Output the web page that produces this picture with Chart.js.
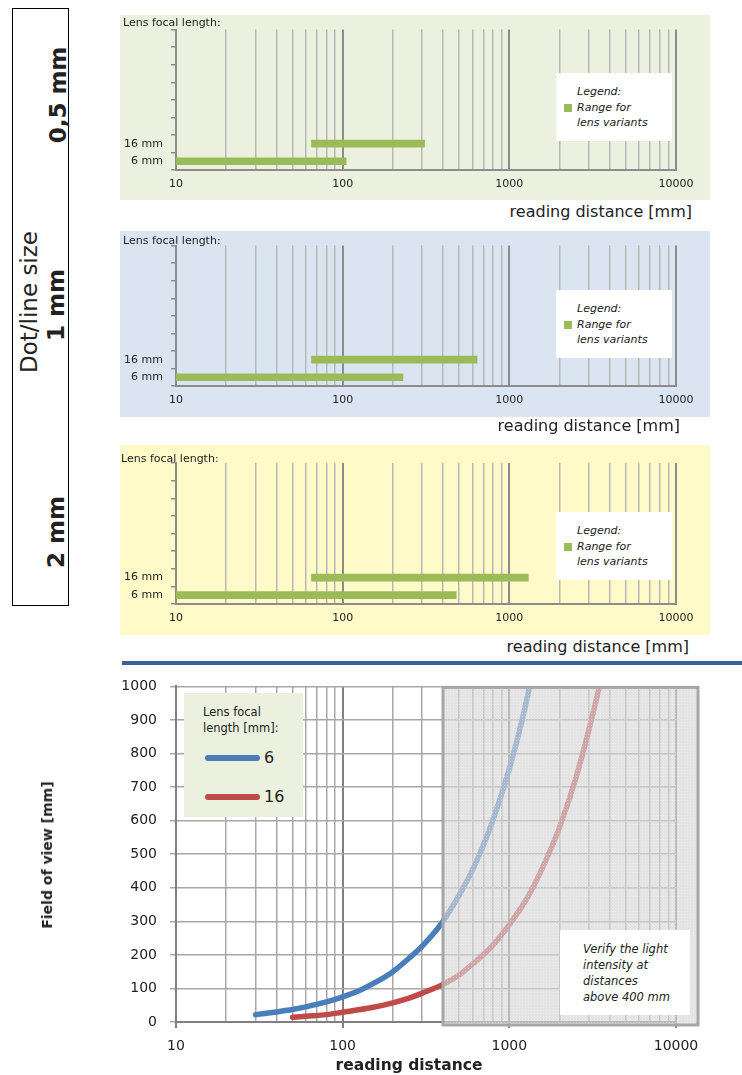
<!DOCTYPE html>
<html>
<head>
<meta charset="utf-8">
<script src="https://cdn.jsdelivr.net/npm/chart.js@4.4.1/dist/chart.umd.min.js"></script>
<style>
  body { margin: 0; background: #fff; font-family: "DejaVu Sans", sans-serif; color: #222; }
  #page { position: relative; width: 742px; height: 1075px; overflow: hidden; }
  .abs { position: absolute; white-space: nowrap; }
  .rot { position: absolute; white-space: nowrap; transform: translate(-50%, -50%) rotate(-90deg); }
  .bg { position: absolute; left: 120px; width: 590px; }
  .cv { position: absolute; left: 120px; }
  .lensTitle { position: absolute; font-size: 11px; line-height: 13px; }
  .xTitle { position: absolute; font-size: 16px; line-height: 18px; text-align: right; }
  .legend { position: absolute; left: 556px; width: 116px; height: 68px; background: #fff; font-style: italic; font-size: 11px; }
  .legend span { position: absolute; left: 21px; line-height: 15px; }
  .legend i { position: absolute; left: 8px; width: 8px; height: 8px; background: #9bbb59; }
</style>
</head>
<body>
<div id="page">
  <!-- left label box -->
  <div class="abs" style="left:12px;top:8px;width:55px;height:596px;border:1px solid #000;"></div>
  <div class="rot" style="left:58px;top:95px;font-size:23px;font-weight:bold;">0,5 mm</div>
  <div class="rot" style="left:29px;top:302px;font-size:23px;">Dot/line size</div>
  <div class="rot" style="left:56px;top:305px;font-size:23px;font-weight:bold;">1 mm</div>
  <div class="rot" style="left:56px;top:532px;font-size:23px;font-weight:bold;">2 mm</div>

  <!-- panel 1 -->
  <div class="bg" style="top:15px;height:185px;background:#ebf1de;"></div>
  <canvas id="c05" class="cv" width="590" height="185" style="top:15px;"></canvas>
  <div class="lensTitle" style="left:123px;top:16px;">Lens focal length:</div>
  <div class="legend" style="top:73px;"><span style="top:11px;">Legend:</span><i style="top:31px;"></i><span style="top:27px;">Range for</span><span style="top:42px;">lens variants</span></div>
  <div class="xTitle" style="right:50px;top:203px;">reading distance [mm]</div>

  <!-- panel 2 -->
  <div class="bg" style="top:231px;height:186px;background:#dbe5f1;"></div>
  <canvas id="c1" class="cv" width="590" height="186" style="top:231px;"></canvas>
  <div class="lensTitle" style="left:123px;top:234px;">Lens focal length:</div>
  <div class="legend" style="top:290px;"><span style="top:11px;">Legend:</span><i style="top:31px;"></i><span style="top:27px;">Range for</span><span style="top:42px;">lens variants</span></div>
  <div class="xTitle" style="right:62px;top:417px;">reading distance [mm]</div>

  <!-- panel 3 -->
  <div class="bg" style="top:445px;height:190px;background:#fffac8;"></div>
  <canvas id="c2" class="cv" width="590" height="190" style="top:445px;"></canvas>
  <div class="lensTitle" style="left:121px;top:452px;">Lens focal length:</div>
  <div class="legend" style="top:512px;"><span style="top:11px;">Legend:</span><i style="top:31px;"></i><span style="top:27px;">Range for</span><span style="top:42px;">lens variants</span></div>
  <div class="xTitle" style="right:53px;top:638px;">reading distance [mm]</div>

  <!-- separator -->
  <div class="abs" style="left:122px;top:661px;width:620px;height:4px;background:#3a6296;"></div>

  <!-- field of view chart -->
  <canvas id="fov" class="abs" width="742" height="410" style="left:0;top:665px;"></canvas>
  <div class="rot" style="left:47px;top:855px;font-size:14px;font-weight:bold;">Field of view [mm]</div>
  <div class="abs" style="left:409px;top:1056px;transform:translateX(-50%);font-size:15.5px;font-weight:bold;">reading distance</div>

  <div class="abs" style="left:184px;top:693px;width:119px;height:124px;background:#ebf1de;font-size:11.5px;">
    <div class="abs" style="left:19px;top:11px;line-height:16px;">Lens focal<br>length [mm]:</div>
    <div class="abs" style="left:21px;top:62px;width:55px;height:6px;border-radius:3px;background:#4a7ebb;"></div>
    <div class="abs" style="left:80px;top:55px;font-size:16px;line-height:20px;">6</div>
    <div class="abs" style="left:21px;top:101px;width:55px;height:6px;border-radius:3px;background:#be4b48;"></div>
    <div class="abs" style="left:80px;top:94px;font-size:16px;line-height:20px;">16</div>
  </div>

  <div class="abs" style="left:560px;top:930px;width:130px;height:85px;background:#fff;font-style:italic;font-size:11.5px;">
    <div class="abs" style="left:23px;top:11px;line-height:16px;">Verify the light<br>intensity at<br>distances<br>above 400 mm</div>
  </div>
</div>

<script>
// lens variants (category axis, bottom to top)
const lensLabels = ['6 mm', '16 mm', '', '', '', '', '', ''];

// reading distance ranges [from, to] in mm, per dot/line size
const range05mm = [[10, 105], [65, 310]];
const range1mm = [[10, 230], [65, 640]];
const range2mm = [[10, 480], [65, 1300]];

// log axis ticks
const xTickValues = [10, 20, 30, 40, 50, 60, 70, 80, 90,
  100, 200, 300, 400, 500, 600, 700, 800, 900,
  1000, 2000, 3000, 4000, 5000, 6000, 7000, 8000, 9000, 10000];
const xTickLabels = [10, 100, 1000, 10000];

// field of view curves: reading distance [mm] -> field of view [mm]
const dist6 = [30, 40, 50, 60, 80, 100, 130, 160, 200, 250, 300, 400, 500, 600, 700, 800, 1000, 1200, 1325];
const fov6 = [22, 30, 37, 45, 60, 75, 97, 120, 150, 190, 226, 300, 378, 452, 528, 604, 755, 905, 1000];
const dist16 = [50, 60, 80, 100, 150, 200, 250, 300, 400, 500, 600, 800, 1000, 1300, 1600, 2000, 2500, 3000, 3475];
const fov16 = [14, 17, 22, 29, 43, 57, 71, 86, 112, 140, 172, 230, 290, 375, 465, 580, 725, 870, 1000];
const lightLimit = 400;

const isDecade = v => xTickLabels.includes(v);

function rangeChart(id, ranges, padTop, axisH) {
  const data = lensLabels.map((_, i) => ranges[i] || null);
  new Chart(document.getElementById(id), {
    type: 'bar',
    data: {
      labels: lensLabels,
      datasets: [{ data: data, backgroundColor: '#9bbb59', barThickness: 7 }]
    },
    options: {
      indexAxis: 'y',
      responsive: false,
      animation: false,
      layout: { padding: { top: padTop, right: 34, left: 0, bottom: 0 } },
      plugins: { legend: { display: false }, tooltip: { enabled: false } },
      scales: {
        x: {
          type: 'logarithmic', min: 10, max: 10000,
          afterBuildTicks: s => { s.ticks = xTickValues.map(v => ({ value: v })); },
          afterFit: s => { s.height = axisH; },
          grid: {
            drawTicks: false,
            color: c => isDecade(c.tick.value) ? '#8c8c8c' : '#b8b8b8',
            lineWidth: c => isDecade(c.tick.value) ? 2 : 1.5
          },
          border: { color: '#8c8c8c', width: 2 },
          ticks: {
            autoSkip: false, maxRotation: 0, padding: 8, color: '#222',
            font: { family: 'DejaVu Sans', size: 11 },
            callback: v => isDecade(v) ? String(v) : ''
          }
        },
        y: {
          reverse: true,
          afterFit: s => { s.width = 56; },
          grid: { drawOnChartArea: false, tickLength: 5, color: '#8c8c8c', lineWidth: 1.5 },
          border: { color: '#8c8c8c', width: 2 },
          ticks: { padding: 8, color: '#222', font: { family: 'DejaVu Sans', size: 11 } }
        }
      }
    }
  });
}

rangeChart('c05', range05mm, 13, 30);
rangeChart('c1', range1mm, 14, 31);
rangeChart('c2', range2mm, 18, 31);

// grey "verify light" zone drawn over the curves
const shadePlugin = {
  id: 'shade',
  afterDatasetsDraw(chart) {
    const ctx = chart.ctx, a = chart.chartArea;
    const x0 = chart.scales.x.getPixelForValue(lightLimit);
    const x1 = a.right + 22, y0 = a.top + 1, y1 = a.bottom + 3;
    ctx.save();
    ctx.fillStyle = 'rgba(214,214,214,0.66)';
    ctx.fillRect(x0, y0, x1 - x0, y1 - y0);
    const p = document.createElement('canvas');
    p.width = 3; p.height = 3;
    const pc = p.getContext('2d');
    pc.fillStyle = 'rgba(255,255,255,0.35)';
    pc.fillRect(0, 0, 1, 1);
    ctx.fillStyle = ctx.createPattern(p, 'repeat');
    ctx.fillRect(x0, y0, x1 - x0, y1 - y0);
    ctx.strokeStyle = '#a6a6a6';
    ctx.lineWidth = 3;
    ctx.strokeRect(x0, y0, x1 - x0, y1 - y0);
    ctx.restore();
  }
};

new Chart(document.getElementById('fov'), {
  type: 'line',
  data: {
    datasets: [
      { label: '6', data: dist6.map((d, i) => ({ x: d, y: fov6[i] })), borderColor: '#4a7ebb' },
      { label: '16', data: dist16.map((d, i) => ({ x: d, y: fov16[i] })), borderColor: '#be4b48' }
    ]
  },
  options: {
    responsive: false,
    animation: false,
    layout: { padding: { top: 17, right: 66, left: 0, bottom: 0 } },
    elements: {
      point: { radius: 0 },
      line: { borderWidth: 5.5, borderCapStyle: 'round', cubicInterpolationMode: 'monotone', fill: false }
    },
    plugins: { legend: { display: false }, tooltip: { enabled: false } },
    scales: {
      x: {
        type: 'logarithmic', min: 10, max: 10000,
        afterBuildTicks: s => { s.ticks = xTickValues.map(v => ({ value: v })); },
        afterFit: s => { s.height = 53; },
        grid: {
          tickLength: 6,
          color: c => isDecade(c.tick.value) ? '#808080' : '#a8a8a8',
          tickColor: c => isDecade(c.tick.value) ? '#808080' : 'rgba(0,0,0,0)',
          lineWidth: c => isDecade(c.tick.value) ? 2 : 1.5
        },
        border: { color: '#808080', width: 2 },
        ticks: {
          autoSkip: false, maxRotation: 0, padding: 10, color: '#222',
          font: { family: 'DejaVu Sans', size: 14 },
          callback: v => isDecade(v) ? String(v) : ''
        }
      },
      y: {
        min: 0, max: 1000,
        afterFit: s => { s.width = 176; },
        grid: { tickLength: 6, color: '#a8a8a8', lineWidth: 1.5 },
        border: { color: '#808080', width: 2 },
        ticks: {
          stepSize: 100, padding: 13, color: '#222',
          font: { family: 'DejaVu Sans', size: 14 },
          callback: v => String(v)
        }
      }
    }
  },
  plugins: [shadePlugin]
});
</script>
</body>
</html>
